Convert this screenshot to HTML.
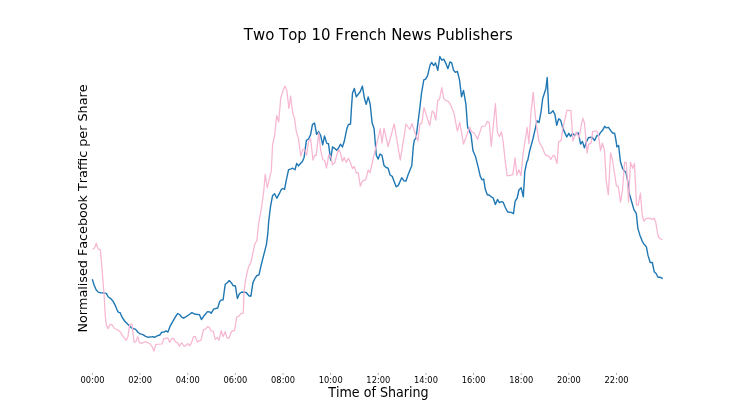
<!DOCTYPE html>
<html><head><meta charset="utf-8"><title>Two Top 10 French News Publishers</title>
<style>
html,body{margin:0;padding:0;background:#fff;}
body{width:738px;height:416px;overflow:hidden;font-family:"DejaVu Sans","Liberation Sans",sans-serif;}
svg{display:block}
text{font-family:"DejaVu Sans","Liberation Sans",sans-serif;fill:#000;font-kerning:none}
</style></head><body>
<svg width="738" height="416" viewBox="0 0 738 416">
<rect width="738" height="416" fill="#fff"/>
<path d="M92.3,279.3 L94.1,285.0 L96.1,289.8 L98.2,292.1 L100.9,292.9 L102.9,292.9 L106.3,293.4 L108.3,297.0 L110.4,298.3 L113.1,301.3 L115.1,305.1 L117.1,310.1 L118.5,312.4 L120.2,312.8 L121.9,316.9 L124.6,321.0 L128.0,324.4 L131.4,327.8 L133.4,328.7 L135.4,329.1 L138.1,332.5 L140.2,333.9 L142.9,334.6 L145.6,336.3 L148.3,337.3 L151.0,336.9 L153.0,336.6 L154.4,337.3 L157.1,335.9 L159.8,335.0 L161.8,332.2 L163.9,332.1 L165.9,330.9 L167.9,332.1 L170.0,326.4 L172.7,321.7 L175.4,316.9 L177.7,313.5 L179.6,314.5 L181.6,317.1 L183.5,318.2 L185.8,316.8 L188.6,315.0 L191.9,312.6 L195.3,314.3 L199.4,314.6 L201.4,319.5 L204.1,315.7 L207.5,311.6 L209.6,311.9 L211.3,313.2 L213.6,309.2 L217.7,308.0 L219.7,301.5 L221.1,300.1 L223.1,299.8 L225.2,284.3 L227.2,282.7 L229.2,280.5 L231.3,282.7 L233.3,285.9 L235.3,285.7 L237.4,298.5 L239.4,293.8 L241.4,292.2 L244.1,292.0 L246.4,292.7 L248.9,295.8 L250.9,296.2 L252.9,282.9 L255.0,278.2 L257.0,275.5 L259.0,274.8 L261.1,265.3 L266.4,244.6 L267.8,233.7 L268.7,221.5 L270.5,206.6 L272.5,195.8 L274.6,193.7 L276.9,198.2 L279.3,193.7 L281.4,189.3 L282.8,188.5 L284.5,189.5 L286.4,179.7 L288.6,169.6 L290.5,169.1 L292.7,168.2 L295.0,169.8 L296.7,163.5 L298.6,165.9 L300.4,163.5 L302.4,161.4 L304.1,157.4 L305.1,149.9 L306.4,140.4 L308.5,139.0 L310.5,134.9 L312.5,124.4 L314.6,123.1 L316.6,134.3 L318.6,131.6 L320.7,135.6 L322.7,144.8 L324.5,136.0 L326.8,143.4 L328.5,143.7 L329.5,151.3 L330.6,160.1 L332.5,146.9 L334.9,148.6 L336.7,150.2 L338.6,147.9 L340.4,144.2 L342.4,146.9 L344.2,141.6 L347.0,128.1 L348.4,124.7 L350.5,124.0 L351.5,107.1 L352.5,93.2 L354.3,88.5 L356.3,96.9 L360.3,91.5 L362.4,86.1 L364.4,98.3 L366.2,104.4 L368.2,96.9 L370.1,103.7 L372.1,122.7 L374.1,128.8 L375.5,145.8 L376.3,155.3 L378.2,159.1 L380.0,154.0 L382.0,155.3 L384.0,165.5 L386.1,167.5 L388.1,168.2 L390.1,175.0 L392.2,176.3 L394.2,181.7 L396.2,186.8 L398.3,185.4 L401.7,177.7 L404.0,180.8 L406.0,181.1 L408.0,175.0 L411.8,165.5 L413.3,146.6 L414.3,140.1 L416.0,138.2 L418.0,122.5 L419.9,107.3 L421.5,93.4 L423.8,79.9 L425.6,79.1 L427.6,75.7 L430.1,64.9 L431.7,62.5 L433.7,65.6 L435.5,62.9 L437.8,70.3 L439.8,56.5 L441.8,60.2 L443.9,59.2 L445.9,63.6 L447.9,68.7 L450.0,61.9 L451.7,62.9 L453.6,70.3 L455.4,72.4 L457.4,71.4 L459.5,79.8 L461.5,96.7 L463.5,90.4 L465.9,104.1 L467.6,127.1 L471.0,134.6 L473.0,150.8 L475.6,156.8 L478.3,167.6 L480.3,176.4 L482.0,179.8 L483.7,179.1 L485.2,189.0 L487.3,194.7 L489.4,195.2 L491.3,196.9 L493.2,198.0 L495.4,204.5 L497.5,199.4 L499.4,202.6 L501.8,201.6 L503.2,202.3 L505.3,207.5 L507.5,211.8 L509.4,212.3 L511.3,212.4 L513.5,213.7 L515.1,201.3 L517.2,198.0 L518.9,190.0 L521.2,187.8 L523.3,196.9 L524.8,171.7 L526.8,162.0 L527.8,160.2 L529.6,151.2 L532.9,139.0 L535.7,126.8 L537.0,120.8 L539.0,122.6 L541.1,111.3 L542.7,98.5 L545.8,89.0 L547.2,77.5 L548.9,113.4 L550.8,113.1 L552.9,110.7 L554.9,114.4 L556.7,125.3 L558.7,118.8 L560.7,120.4 L562.8,128.1 L565.2,133.6 L566.8,136.9 L568.8,133.3 L570.6,136.3 L572.5,133.3 L574.7,135.6 L576.3,133.3 L578.3,132.9 L580.6,144.1 L582.4,141.4 L584.4,147.8 L586.5,141.7 L588.5,137.6 L591.2,137.3 L592.2,137.5 L594.6,140.5 L596.9,135.5 L598.7,135.7 L600.3,132.8 L602.4,130.6 L604.7,126.3 L606.4,127.9 L608.5,127.3 L610.5,130.3 L612.5,133.0 L614.6,133.3 L615.9,139.8 L616.9,146.9 L618.6,145.5 L620.4,161.5 L622.5,168.3 L624.6,171.4 L625.9,172.0 L627.7,181.2 L629.3,193.4 L631.4,200.8 L633.9,209.6 L636.3,213.3 L637.9,228.6 L640.0,235.4 L642.3,241.3 L644.2,244.5 L645.4,245.6 L646.4,246.9 L648.0,255.4 L650.2,262.5 L652.3,262.5 L654.2,271.7 L656.1,273.5 L658.0,277.3 L660.4,277.3 L662.7,278.7" fill="none" stroke="#1f77b4" stroke-width="1.4" stroke-linejoin="round" stroke-linecap="butt"/>
<path d="M92.4,249.2 L94.3,248.2 L96.3,243.3 L98.1,249.0 L100.3,249.7 L101.3,260.3 L102.4,273.4 L104.0,293.2 L105.3,316.3 L106.3,324.4 L108.1,328.7 L110.0,324.7 L111.7,324.4 L114.4,328.5 L117.1,329.5 L119.8,331.4 L123.2,336.6 L126.2,340.4 L128.0,336.6 L129.7,324.4 L132.0,324.1 L134.1,342.3 L135.7,342.0 L137.7,336.6 L139.5,342.7 L141.5,343.4 L144.9,341.7 L147.6,342.7 L150.3,344.0 L152.4,347.2 L154.0,351.2 L155.8,344.4 L161.8,344.0 L163.9,338.6 L167.9,337.9 L169.6,342.3 L171.6,338.6 L173.6,338.6 L175.4,342.0 L177.4,342.7 L179.5,346.1 L181.5,342.7 L184.2,346.3 L186.2,345.4 L187.9,343.5 L189.6,345.8 L191.3,343.1 L193.6,336.7 L195.3,336.4 L197.4,342.1 L199.4,340.7 L201.0,340.3 L203.5,329.5 L205.5,329.2 L207.5,326.8 L209.1,327.2 L211.3,330.9 L213.2,331.3 L215.2,339.4 L217.3,337.4 L219.0,340.1 L221.3,330.6 L223.1,336.7 L225.1,331.7 L227.2,338.0 L229.2,338.0 L231.5,331.3 L234.6,330.3 L236.7,317.0 L238.7,316.4 L241.0,313.6 L243.2,313.2 L244.1,291.1 L245.1,282.9 L246.8,274.1 L248.6,266.7 L250.9,262.6 L252.9,253.1 L254.6,244.6 L256.9,240.5 L258.3,226.9 L259.0,221.5 L261.0,210.7 L262.4,201.2 L263.7,191.7 L265.2,174.3 L267.2,187.8 L269.2,179.7 L271.3,170.9 L272.6,144.5 L274.6,135.6 L276.7,115.5 L278.7,122.0 L280.7,98.3 L282.8,91.5 L284.8,86.1 L286.8,90.2 L288.9,108.5 L290.6,96.0 L292.7,112.5 L294.6,118.6 L296.3,131.5 L298.4,138.4 L300.8,156.0 L302.7,149.6 L304.5,149.2 L306.5,155.3 L308.5,142.0 L310.6,138.8 L313.0,160.1 L314.6,155.1 L316.2,155.6 L318.7,132.6 L320.7,150.2 L322.8,159.4 L324.8,160.7 L326.5,168.2 L328.8,154.6 L330.6,156.0 L332.5,164.8 L334.7,162.8 L336.7,155.3 L338.6,149.6 L340.4,152.6 L342.4,161.4 L344.2,157.4 L346.3,162.4 L348.4,158.2 L350.5,163.1 L352.5,168.7 L354.2,166.4 L356.3,172.9 L358.3,172.7 L360.3,186.2 L362.4,181.1 L365.7,179.7 L368.2,170.0 L370.1,172.7 L372.1,163.5 L373.9,155.3 L376.6,144.5 L380.2,128.8 L382.0,143.1 L384.0,128.1 L388.1,146.5 L394.2,124.0 L400.3,160.1 L406.0,124.0 L409.8,129.5 L411.9,123.7 L417.9,141.0 L419.9,124.1 L421.8,123.1 L424.0,107.6 L429.7,125.6 L432.1,111.1 L433.9,112.5 L435.8,120.1 L437.8,100.2 L439.5,99.5 L441.8,87.7 L443.6,98.1 L445.5,100.4 L447.9,101.2 L450.0,103.5 L454.0,113.3 L457.4,131.2 L459.7,122.4 L463.5,144.0 L469.6,127.1 L471.7,131.8 L474.4,133.2 L477.5,139.3 L481.8,126.4 L485.2,126.0 L487.5,121.4 L489.3,122.8 L491.3,146.1 L495.4,103.7 L497.4,132.5 L499.4,136.6 L501.5,131.8 L503.3,142.9 L505.1,160.7 L507.2,175.7 L509.1,175.7 L512.8,174.7 L515.1,157.9 L516.9,175.1 L518.9,169.6 L521.0,175.7 L523.0,154.0 L527.2,127.5 L528.9,143.7 L530.9,113.4 L533.2,92.4 L535.4,116.7 L537.3,130.8 L539.0,141.7 L542.4,147.8 L544.6,153.3 L546.5,155.9 L547.4,155.4 L549.2,156.6 L550.8,159.5 L552.6,156.3 L553.5,155.4 L554.7,156.1 L557.0,163.5 L558.7,141.7 L561.1,140.6 L562.8,128.1 L564.8,120.1 L566.8,110.4 L570.9,110.4 L572.9,141.0 L576.3,131.9 L579.0,137.6 L581.0,126.8 L582.8,118.1 L584.4,122.7 L587.1,153.2 L588.5,144.4 L591.2,143.0 L592.7,131.3 L596.9,131.0 L598.3,134.4 L600.6,150.7 L602.4,143.2 L604.4,150.0 L606.3,181.2 L608.3,194.7 L610.6,153.0 L612.4,159.5 L616.4,185.9 L618.2,186.3 L620.5,202.2 L622.5,190.0 L624.6,162.2 L626.3,162.9 L628.6,202.2 L630.4,162.2 L632.7,168.3 L634.4,163.3 L636.6,205.2 L638.2,205.2 L640.4,193.0 L642.3,215.7 L644.0,221.2 L646.1,218.5 L650.1,218.2 L652.2,219.5 L654.2,218.2 L655.8,222.5 L657.6,233.1 L658.5,237.2 L660.3,238.8 L662.6,239.5" fill="none" stroke="#f7b6d2" stroke-width="1.25" stroke-linejoin="round" stroke-linecap="butt"/>
<text transform="translate(378.35,39.55) scale(1,1.05)" font-size="14.95" text-anchor="middle">Two Top 10 French News Publishers</text>
<text transform="translate(86.95,208.55) rotate(-90) scale(1,1.02)" font-size="12.77" text-anchor="middle">Normalised Facebook Traffic per Share</text>
<text transform="translate(378.4,397) scale(1,1.06)" font-size="12.7" text-anchor="middle">Time of Sharing</text>
<g stroke="#000" stroke-width="0.45" stroke-opacity="0.75">
<line x1="92.44" y1="372.9" x2="92.44" y2="374.8"/>
<line x1="140.08" y1="372.9" x2="140.08" y2="374.8"/>
<line x1="187.72" y1="372.9" x2="187.72" y2="374.8"/>
<line x1="235.36" y1="372.9" x2="235.36" y2="374.8"/>
<line x1="283.00" y1="372.9" x2="283.00" y2="374.8"/>
<line x1="330.64" y1="372.9" x2="330.64" y2="374.8"/>
<line x1="378.28" y1="372.9" x2="378.28" y2="374.8"/>
<line x1="425.92" y1="372.9" x2="425.92" y2="374.8"/>
<line x1="473.56" y1="372.9" x2="473.56" y2="374.8"/>
<line x1="521.20" y1="372.9" x2="521.20" y2="374.8"/>
<line x1="568.84" y1="372.9" x2="568.84" y2="374.8"/>
<line x1="616.48" y1="372.9" x2="616.48" y2="374.8"/>
</g>
<g font-size="8.32" text-anchor="middle">
<text transform="translate(92.49,383) scale(1,0.97)">00:00</text>
<text transform="translate(140.13,383) scale(1,0.97)">02:00</text>
<text transform="translate(187.77,383) scale(1,0.97)">04:00</text>
<text transform="translate(235.41,383) scale(1,0.97)">06:00</text>
<text transform="translate(283.05,383) scale(1,0.97)">08:00</text>
<text transform="translate(330.69,383) scale(1,0.97)">10:00</text>
<text transform="translate(378.33,383) scale(1,0.97)">12:00</text>
<text transform="translate(425.97,383) scale(1,0.97)">14:00</text>
<text transform="translate(473.61,383) scale(1,0.97)">16:00</text>
<text transform="translate(521.25,383) scale(1,0.97)">18:00</text>
<text transform="translate(568.89,383) scale(1,0.97)">20:00</text>
<text transform="translate(616.53,383) scale(1,0.97)">22:00</text>
</g>
</svg>
</body></html>
